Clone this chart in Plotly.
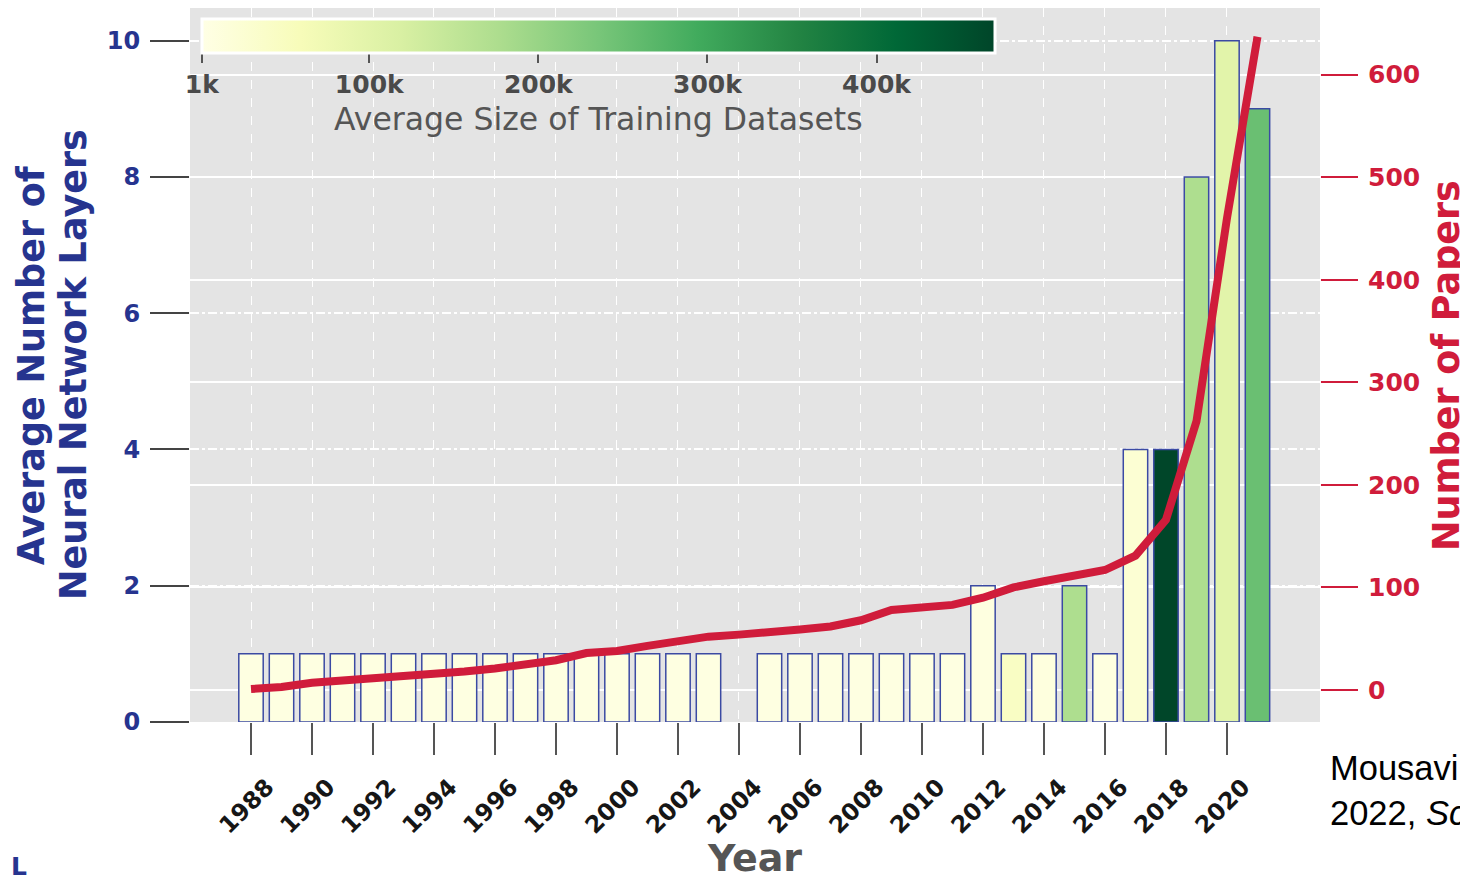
import plotly.graph_objects as go

# Bars: average number of layers per year (no bar for 2004)
bar_years = [1988, 1989, 1990, 1991, 1992, 1993, 1994, 1995, 1996, 1997, 1998,
             1999, 2000, 2001, 2002, 2003, 2005, 2006, 2007, 2008, 2009, 2010,
             2011, 2012, 2013, 2014, 2015, 2016, 2017, 2018, 2019, 2020, 2021]
avg_layers = [1, 1, 1, 1, 1, 1, 1, 1, 1, 1, 1,
              1, 1, 1, 1, 1, 1, 1, 1, 1, 1, 1,
              1, 2, 1, 1, 2, 1, 4, 4, 8, 10, 9]
# Average training dataset size (samples) -> bar colour
avg_dataset_size = [6000, 6000, 6000, 6000, 6000, 6000, 6000, 6000, 6000, 6000, 6000,
                    6000, 6000, 6000, 6000, 6000, 6000, 6000, 6000, 6000, 6000, 6000,
                    6000, 8000, 45000, 10000, 175000, 8000, 25000, 468000, 175000, 100000, 250000]

# Line: number of papers per year
paper_years = [1988, 1989, 1990, 1991, 1992, 1993, 1994, 1995, 1996, 1997,
               1998, 1999, 2000, 2001, 2002, 2003, 2004, 2005, 2006, 2007,
               2008, 2009, 2010, 2011, 2012, 2013, 2014, 2015, 2016, 2017,
               2018, 2019, 2020, 2021]
num_papers = [1, 3, 7, 9, 11, 13, 15, 18, 21, 25,
              29, 36, 38, 43, 47, 52, 54, 56, 59, 62,
              68, 78, 81, 83, 90, 100, 106, 111, 117, 131,
              166, 262, 460, 637]

year_ticks = [1988, 1990, 1992, 1994, 1996, 1998, 2000, 2002, 2004, 2006,
              2008, 2010, 2012, 2014, 2016, 2018, 2020]
size_ticks = [1000, 100000, 200000, 300000, 400000]
size_labels = ["1k", "100k", "200k", "300k", "400k"]

BLUE = "#26348f"
RED = "#d01c3b"
FONT = "DejaVu Sans"

fig = go.Figure()

fig.add_trace(go.Bar(
    x=bar_years, y=avg_layers, width=0.8,
    marker=dict(
        color=avg_dataset_size, colorscale="YlGn", cmin=1000, cmax=470000,
        line=dict(color="#3b4aa3", width=1.5),
        colorbar=dict(
            orientation="h", xref="paper", yref="paper",
            x=0.0105, xanchor="left", y=0.985, yanchor="top",
            len=793, lenmode="pixels", thickness=34,
            outlinewidth=3, outlinecolor="white",
            xpad=0, ypad=0,
            tickvals=size_ticks, ticktext=size_labels,
            ticks="outside", ticklen=9, tickwidth=2, tickcolor="#555",
            tickfont=dict(family=FONT, size=25, color="#4a4a4a", weight="bold"),
            title=dict(text="Average Size of Training Datasets", side="bottom",
                       font=dict(family=FONT, size=31.5, color="#555")),
        ),
    ),
    showlegend=False,
))

fig.add_trace(go.Scatter(
    x=paper_years, y=num_papers, yaxis="y2", mode="lines",
    line=dict(color=RED, width=8), showlegend=False,
))

# The page body adds an 8px margin, so the figure is 8px smaller and margins shifted
fig.update_layout(
    width=1460, height=872,
    margin=dict(l=182, r=148, t=0, b=158),
    paper_bgcolor="white", plot_bgcolor="#e4e4e4",
    xaxis=dict(
        range=[1986, 2023.05], tickvals=year_ticks, tickangle=-45,
        ticks="outside", ticklen=32, tickwidth=2, tickcolor="#555",
        tickfont=dict(family=FONT, size=23.5, color="#161616", weight="bold"),
        ticklabelshift=16, ticklabelstandoff=9,
        showgrid=True, gridcolor="white", griddash="dash", gridwidth=1,
        zeroline=False, showline=False,
        title=dict(text="Year", font=dict(family=FONT, size=38, color="#555", weight="bold"),
                   standoff=8),
    ),
    yaxis=dict(
        range=[0, 10.48], tickvals=[0, 2, 4, 6, 8, 10],
        ticks="outside", ticklen=39, tickwidth=2, tickcolor="#444",
        tickfont=dict(family=FONT, size=24, color=BLUE, weight="bold"),
        ticklabelstandoff=5,
        showgrid=True, gridcolor="white", griddash="dashdot", gridwidth=1.5,
        zeroline=False, showline=False,
    ),
    yaxis2=dict(
        overlaying="y", side="right", range=[-31.2, 665],
        tickvals=[0, 100, 200, 300, 400, 500, 600],
        ticks="outside", ticklen=37, tickwidth=2, tickcolor=RED,
        tickfont=dict(family=FONT, size=25, color=RED, weight="bold"),
        ticklabelstandoff=5,
        showgrid=True, gridcolor="white", gridwidth=1.5,
        zeroline=False, showline=False,
    ),
)

# Axis titles placed by hand (two-line left title, one line per annotation)
fig.add_annotation(
    text="Average Number of", textangle=-90,
    xref="paper", yref="paper", x=-0.1405, y=0.5, xanchor="center", yanchor="middle",
    showarrow=False, font=dict(family=FONT, size=36.5, color=BLUE, weight="bold"),
)
fig.add_annotation(
    text="Neural Network Layers", textangle=-90,
    xref="paper", yref="paper", x=-0.1035, y=0.5, xanchor="center", yanchor="middle",
    showarrow=False, font=dict(family=FONT, size=36.5, color=BLUE, weight="bold"),
)
fig.add_annotation(
    text="Number of Papers", textangle=-90,
    xref="paper", yref="paper", x=1.1115, y=0.5, xanchor="center", yanchor="middle",
    showarrow=False, font=dict(family=FONT, size=36.5, color=RED, weight="bold"),
)

# Cropped slide text around the figure
fig.add_annotation(
    text="Mousavi<br>2022, <i>Sc</i>", xref="paper", yref="paper",
    x=1.007, y=-0.035, xanchor="left", yanchor="top", align="left",
    showarrow=False, font=dict(family="Liberation Sans", size=34.5, color="black"),
)
fig.add_annotation(
    text="L", xref="paper", yref="paper", x=-0.1602, y=-0.2017,
    xanchor="left", yanchor="middle", showarrow=False,
    font=dict(family=FONT, size=25, color=BLUE, weight="bold"),
)

fig.write_html("out.html")
